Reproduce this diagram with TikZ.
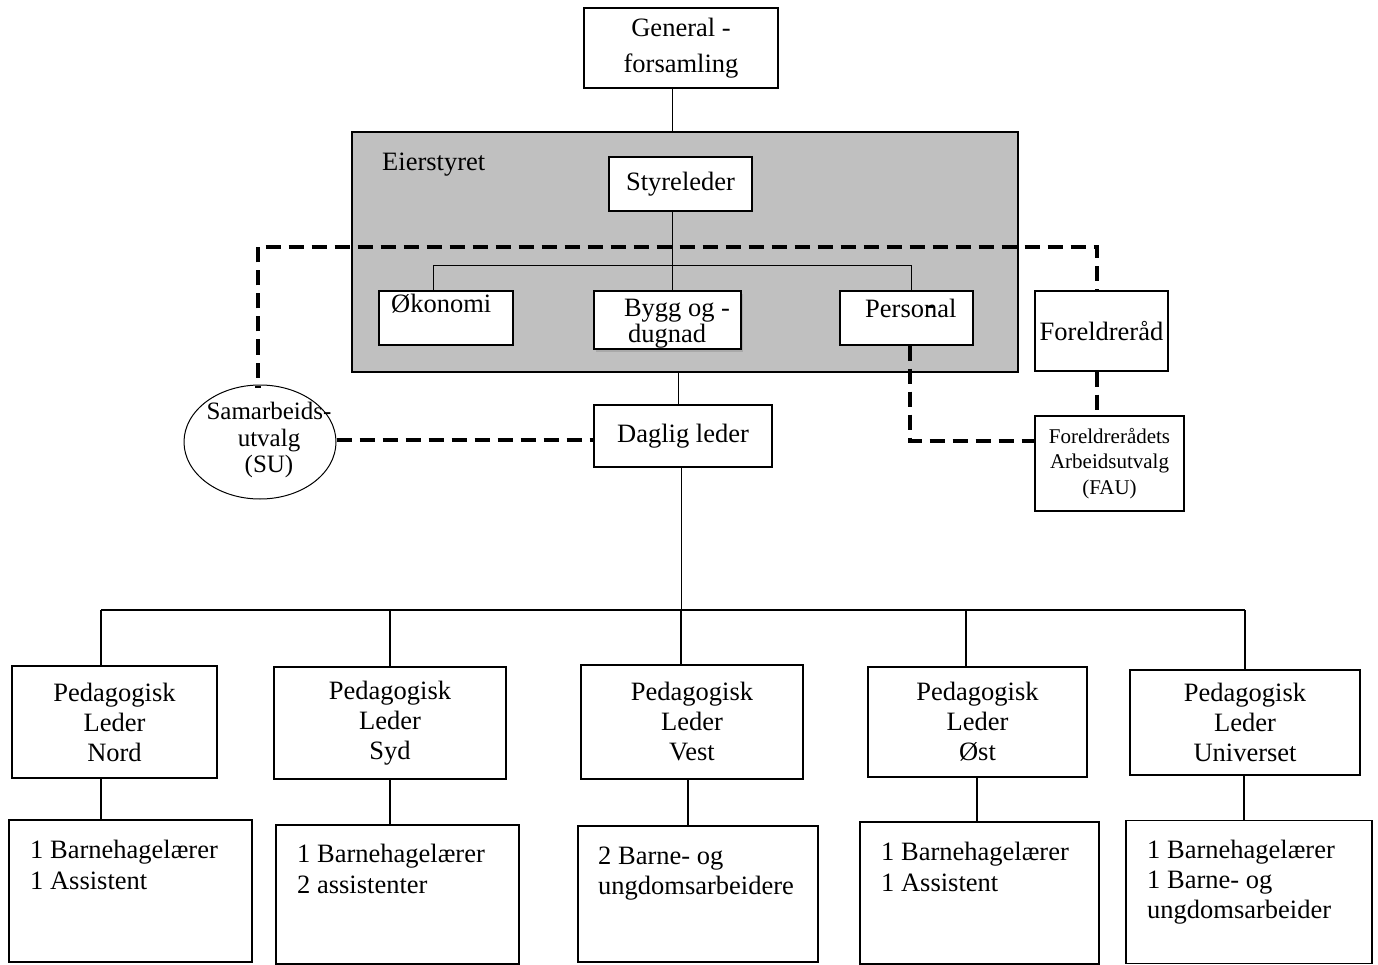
\documentclass[tikz,border=0pt]{standalone}
\usepackage{fontspec}
\setmainfont{Liberation Serif}
\usetikzlibrary{shadows,shapes.geometric}
\definecolor{eiergray}{RGB}{192,192,192}
\newcommand\fmain{\fontsize{26.5}{30}\selectfont}
\tikzset{
  box/.style={draw, line width=1.3pt, fill=white, inner sep=0pt, align=center, font=\fmain},
  txt/.style={inner sep=0pt, font=\fmain},
  thinline/.style={line width=1pt},
  barline/.style={line width=2pt},
  dropline/.style={line width=1.6pt},
  dashline/.style={line width=4pt, dash pattern=on 15pt off 8pt},
  markline/.style={line width=1.3pt},
}
\begin{document}
\begin{tikzpicture}[x=1pt,y=-1pt]
\useasboundingbox (0,0) rectangle (1378,965);
% top
\node[box, minimum width=194, minimum height=80, font=\fontsize{26.5}{36}\selectfont] (gen) at (681,48) {General -\\forsamling};
\node[draw, line width=1.3pt, fill=eiergray, inner sep=0pt, minimum width=666, minimum height=240] (eier) at (685,252) {};
\node[txt, anchor=base west] (eiert) at (382,171) {Eierstyret};
\node[box, minimum width=143, minimum height=54] (sty) at (680.5,184) {Styreleder};
\node[box, minimum width=134, minimum height=54] (oko) at (446,318) {};
\node[txt, anchor=base west] (okot) at (391,313) {Økonomi};
\node[box, line width=2.5pt, minimum width=147, minimum height=58, drop shadow={shadow xshift=2pt, shadow yshift=-3pt, opacity=0.35}] (bygg) at (667.5,320) {};
\node[txt, anchor=base] (byggt1) at (677,317) {Bygg og -};
\node[txt, anchor=base] (byggt2) at (667,343) {dugnad};
\node[box, minimum width=133, minimum height=54] (pers) at (906.5,318) {};
\node[txt, anchor=base west] (perst) at (865,318) {Personal};
\node[box, minimum width=133, minimum height=80] (fr) at (1101.5,331) {Foreldreråd};
\node[box, minimum width=149, minimum height=95, font=\fontsize{21}{25.5}\selectfont] (fau) at (1109.5,463.5) {Foreldrerådets\\Arbeidsutvalg\\(FAU)};
\node[draw, ellipse, line width=1pt, fill=white, inner sep=0pt, minimum width=152, minimum height=114] (su) at (260,442) {};
\node[txt, align=center, font=\fontsize{25}{26.5}\selectfont] (sut) at (269,440) {Samarbeids-\\utvalg\\(SU)};
\node[box, minimum width=178, minimum height=62] (dag) at (683,436) {Daglig leder};
% pedagogisk
\node[box, minimum width=205, minimum height=112] (nord) at (114.5,722) {Pedagogisk\\Leder\\Nord};
\node[box, minimum width=232, minimum height=112] (syd) at (390,723) {Pedagogisk\\Leder\\Syd};
\node[box, minimum width=222, minimum height=114] (vest) at (692,722) {Pedagogisk\\Leder\\Vest};
\node[box, minimum width=219, minimum height=110] (ost) at (977.5,722) {Pedagogisk\\Leder\\Øst};
\node[box, minimum width=230, minimum height=105] (uni) at (1245,722.5) {Pedagogisk\\Leder\\Universet};
% staff
\node[box, minimum width=243, minimum height=142] (ns) at (130.5,891) {};
\node[box, minimum width=243, minimum height=139] (ss) at (397.5,894.5) {};
\node[box, minimum width=240, minimum height=136] (vs) at (698,894) {};
\node[box, minimum width=239, minimum height=142] (os) at (979.5,893) {};
\node[box, minimum width=246, minimum height=143] (us) at (1249,892) {};
\node[txt, align=left, anchor=north west, font=\fontsize{26.5}{31}\selectfont] (nst) at (30,839.5) {1 Barnehagelærer\\1 Assistent};
\node[txt, align=left, anchor=north west, font=\fontsize{26.5}{31}\selectfont] (sst) at (297,843.5) {1 Barnehagelærer\\2 assistenter};
\node[txt, align=left, anchor=north west, font=\fontsize{26.5}{30}\selectfont] (vst) at (598,846.5) {2 Barne- og\\ungdomsarbeidere};
\node[txt, align=left, anchor=north west, font=\fontsize{26.5}{31}\selectfont] (ost2) at (881,841.5) {1 Barnehagelærer\\1 Assistent};
\node[txt, align=left, anchor=north west, font=\fontsize{26.5}{30}\selectfont] (ust) at (1147,839.5) {1 Barnehagelærer\\1 Barne- og\\ungdomsarbeider};
% coordinates
\coordinate (tk) at (672,266);
\coordinate (tl) at (433,266);
\coordinate (tr) at (911,266);
\coordinate (dtop) at (258,247);
\coordinate (frx) at (1097,0);
\coordinate (pf) at (910,441);
\coordinate (dg) at (678,0);
\coordinate (b1) at (101,610);
\coordinate (b2) at (390,610);
\coordinate (b3) at (681,610);
\coordinate (b4) at (966,610);
\coordinate (b5) at (1245,610);
\coordinate (s3) at (688,0);
\coordinate (s4) at (977,0);
\coordinate (s5) at (1244,0);
% solid connectors
\draw[thinline] (gen.south -| tk) -- (eier.north -| tk);
\draw[thinline] (sty.south -| tk) -- (bygg.north -| tk);
\draw[thinline] (oko.north -| tl) -- (tl) -- (tr) -- (pers.north -| tr);
\draw[thinline] (eier.south -| dg) -- (dag.north -| dg);
\draw[thinline] (dag.south -| b3) -- ([yshift=-4pt]b3);
\draw[barline] (b1) -- (b5);
\draw[dropline] (b1) -- (b1 |- nord.north);
\draw[dropline] (b2) -- (b2 |- syd.north);
\draw[dropline] (b3) -- (b3 |- vest.north);
\draw[dropline] (b4) -- (b4 |- ost.north);
\draw[dropline] (b5) -- (b5 |- uni.north);
\draw[dropline] (b1 |- nord.south) -- (b1 |- ns.north);
\draw[dropline] (b2 |- syd.south) -- (b2 |- ss.north);
\draw[dropline] (s3 |- vest.south) -- (s3 |- vs.north);
\draw[dropline] (s4 |- ost.south) -- (s4 |- os.north);
\draw[dropline] (s5 |- uni.south) -- (s5 |- us.north);
% dashed connectors
\draw[dashline] ([yshift=7pt]su.north -| dtop) -- (dtop) -| (frx |- fr.north);
\draw[dashline] (frx |- fr.south) -- (frx |- fau.north);
\draw[dashline] (pers.south -| pf) -- (pf) -- (pf -| fau.west);
\draw[dashline] (su.east |- 0,440) -- (dag.west |- 0,440);
% stray marks
\draw[markline] (926,307) -- (933,307);
\draw[markline] (255,387) -- (261,387);
\end{tikzpicture}
\end{document}
